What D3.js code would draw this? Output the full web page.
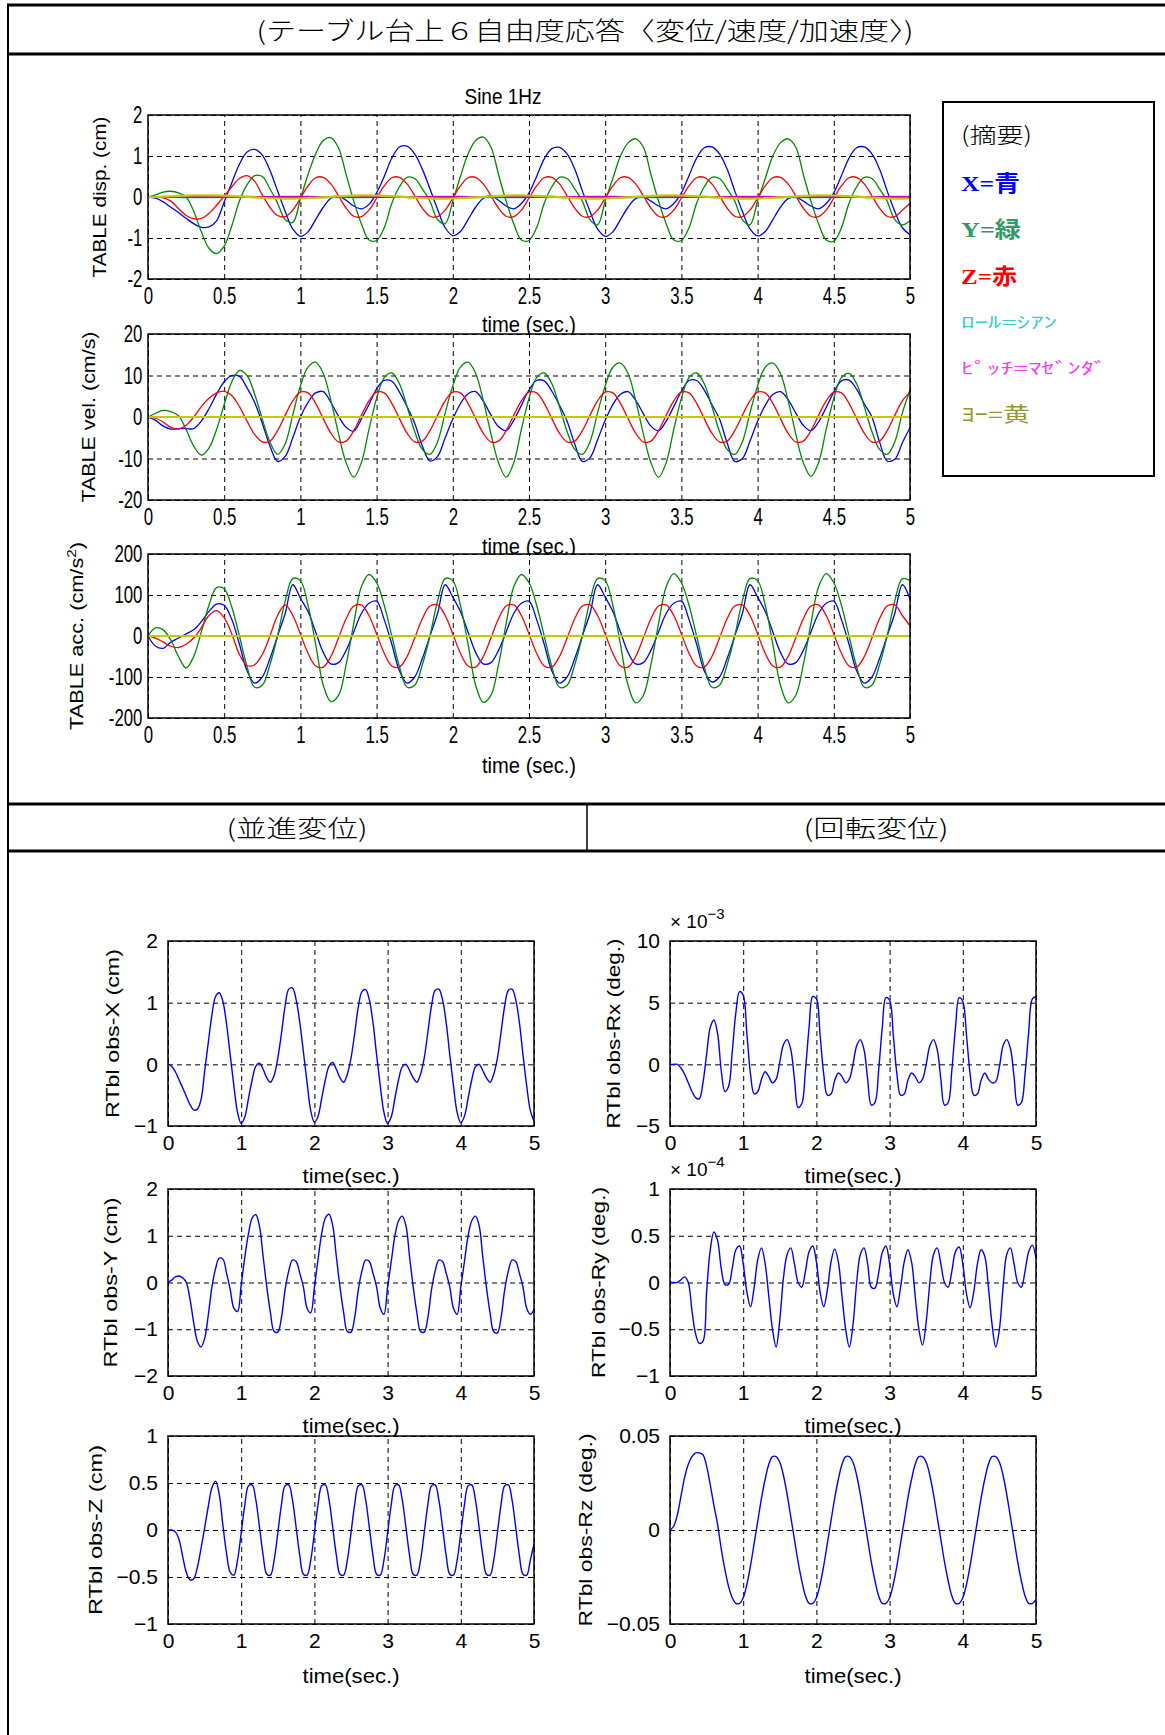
<!DOCTYPE html>
<html>
<head>
<meta charset="utf-8">
<title>テーブル台上6自由度応答</title>
<script src="https://d3js.org/d3.v7.min.js"></script>
<style>
  body { margin: 0; background: #fff; }
  svg { display: block; }
</style>
</head>
<body>
<svg id="page" width="1165" height="1735"></svg>

<script>
    // every series below is sampled every 0.05 s from 0 to 5 s (101 values)
    const SAMPLE_STEP = 0.05;

    // translational displacement (cm): TABLE disp. and RTbl obs-X / obs-Y / obs-Z
    const dispX = [
        0, -0.03, -0.12, -0.25, -0.38, -0.52, -0.65, -0.74, -0.73, -0.58, -0.12, 0.35, 0.80, 1.10, 1.16, 1.02, 0.65, 0.15, -0.35, -0.78,
        -0.96, -0.85, -0.55, -0.25, -0.03, 0.02, -0.08, -0.22, -0.29, -0.18, 0.10, 0.50, 0.95, 1.22, 1.24, 1.05, 0.68, 0.20, -0.30, -0.75,
        -0.94, -0.84, -0.55, -0.25, -0.03, 0.03, -0.08, -0.22, -0.29, -0.16, 0.10, 0.50, 0.93, 1.18, 1.21, 1.05, 0.68, 0.15, -0.35, -0.78,
        -0.96, -0.85, -0.55, -0.25, -0.04, 0.00, -0.10, -0.22, -0.29, -0.16, 0.10, 0.52, 0.95, 1.20, 1.22, 1.05, 0.68, 0.15, -0.35, -0.78,
        -0.95, -0.84, -0.55, -0.25, -0.04, 0.00, -0.10, -0.22, -0.29, -0.16, 0.10, 0.52, 0.95, 1.20, 1.22, 1.05, 0.68, 0.15, -0.35, -0.75,
        -0.92
    ];
    const dispY = [
        0, 0.05, 0.12, 0.14, 0.10, 0.00, -0.35, -0.85, -1.25, -1.38, -1.20, -0.70, -0.10, 0.30, 0.52, 0.50, 0.20, -0.15, -0.55, -0.62,
        -0.05, 0.55, 1.05, 1.38, 1.45, 1.20, 0.55, -0.10, -0.65, -1.05, -1.06, -0.75, -0.15, 0.25, 0.48, 0.45, 0.20, -0.10, -0.55, -0.65,
        -0.10, 0.50, 1.05, 1.38, 1.46, 1.22, 0.55, -0.10, -0.65, -1.05, -1.06, -0.75, -0.15, 0.25, 0.48, 0.45, 0.20, -0.10, -0.55, -0.68,
        -0.10, 0.45, 1.00, 1.32, 1.42, 1.22, 0.55, -0.10, -0.65, -1.05, -1.06, -0.75, -0.15, 0.25, 0.48, 0.45, 0.20, -0.10, -0.55, -0.68,
        -0.10, 0.45, 1.00, 1.32, 1.42, 1.22, 0.55, -0.10, -0.65, -1.05, -1.08, -0.75, -0.15, 0.25, 0.48, 0.45, 0.20, -0.10, -0.55, -0.68,
        -0.58
    ];
    const dispZ = [
        0, 0, -0.02, -0.10, -0.28, -0.45, -0.53, -0.52, -0.40, -0.20, 0.02, 0.25, 0.45, 0.52, 0.38, 0.05, -0.25, -0.45, -0.48, -0.32,
        -0.03, 0.27, 0.47, 0.48, 0.32, 0.03, -0.27, -0.47, -0.48, -0.32, -0.03, 0.27, 0.47, 0.48, 0.32, 0.03, -0.27, -0.47, -0.48, -0.32,
        -0.03, 0.27, 0.47, 0.48, 0.32, 0.03, -0.27, -0.47, -0.48, -0.32, -0.03, 0.27, 0.47, 0.48, 0.32, 0.03, -0.27, -0.47, -0.48, -0.32,
        -0.03, 0.27, 0.47, 0.48, 0.32, 0.03, -0.27, -0.47, -0.48, -0.32, -0.03, 0.27, 0.47, 0.48, 0.32, 0.03, -0.27, -0.47, -0.48, -0.32,
        -0.03, 0.27, 0.47, 0.48, 0.32, 0.03, -0.27, -0.47, -0.48, -0.32, -0.03, 0.27, 0.47, 0.48, 0.32, 0.03, -0.27, -0.47, -0.48, -0.32,
        -0.15
    ];

    // velocity (cm/s)
    const velX = [
        0, -0.8, -2.2, -2.9, -2.8, -2.8, -2.8, -1.0, 2.0, 5.5, 8.5, 10.0, 9.8, 7.0, 3.5, -1.5, -7.0, -10.7, -9.5, -5.0,
        0.0, 3.5, 5.8, 6.1, 3.5, 0.2, -2.5, -3.4, -0.5, 3.0, 6.8, 8.8, 8.6, 6.0, 2.5, -1.5, -7.0, -10.6, -9.5, -5.0,
        -0.5, 3.2, 5.6, 6.1, 3.8, 0.5, -2.3, -3.3, -0.8, 2.8, 6.5, 8.8, 8.7, 6.2, 2.8, -1.0, -6.5, -10.7, -9.8, -5.5,
        -0.8, 3.0, 5.5, 6.1, 4.0, 0.8, -2.2, -3.3, -1.0, 2.5, 6.2, 8.8, 8.8, 6.5, 3.0, -0.5, -6.2, -10.7, -10.0, -5.8,
        -1.0, 2.8, 5.4, 6.1, 4.2, 1.0, -2.0, -3.3, -1.2, 2.3, 6.0, 8.7, 8.9, 6.7, 3.2, 0.0, -6.0, -10.6, -10.2, -6.2,
        -2.6
    ];
    const velY = [
        0, 0.9, 1.6, 1.3, 0.3, -3.0, -7.0, -9.2, -7.5, -3.0, 3.0, 8.5, 11.2, 10.0, 5.5, -0.5, -6.0, -9.0, -6.5, 0.5,
        7.5, 12.0, 13.2, 10.5, 4.0, -4.0, -11.0, -14.5, -11.0, -3.0, 4.5, 9.5, 10.6, 8.0, 2.5, -3.5, -7.8, -9.0, -6.0, 1.0,
        7.5, 12.0, 13.2, 10.5, 4.0, -4.0, -11.0, -14.5, -11.0, -3.0, 4.5, 9.5, 10.6, 8.0, 2.5, -3.5, -7.8, -9.0, -6.0, 1.0,
        7.5, 12.0, 13.0, 10.5, 4.0, -4.0, -11.0, -14.5, -11.0, -3.0, 4.5, 9.5, 10.6, 8.0, 2.5, -3.5, -7.8, -9.0, -6.0, 1.0,
        7.5, 12.0, 13.0, 10.5, 4.0, -4.0, -11.0, -14.3, -11.0, -3.0, 4.5, 9.5, 10.5, 8.0, 2.5, -3.5, -7.8, -9.0, -6.0, 1.0,
        6.5
    ];
    const velZ = [
        0, -0.3, -1.2, -2.5, -2.9, -2.0, 0.0, 2.5, 4.5, 5.8, 6.2, 5.2, 2.5, -1.0, -4.2, -6.0, -5.8, -3.3, 0.4, 3.9,
        6.0, 5.8, 3.3, -0.4, -3.9, -6.0, -5.8, -3.3, 0.4, 3.9, 6.0, 5.8, 3.3, -0.4, -3.9, -6.0, -5.8, -3.3, 0.4, 3.9,
        6.0, 5.8, 3.3, -0.4, -3.9, -6.0, -5.8, -3.3, 0.4, 3.9, 6.0, 5.8, 3.3, -0.4, -3.9, -6.0, -5.8, -3.3, 0.4, 3.9,
        6.0, 5.8, 3.3, -0.4, -3.9, -6.0, -5.8, -3.3, 0.4, 3.9, 6.0, 5.8, 3.3, -0.4, -3.9, -6.0, -5.8, -3.3, 0.4, 3.9,
        6.0, 5.8, 3.3, -0.4, -3.9, -6.0, -5.8, -3.3, 0.4, 3.9, 6.0, 5.8, 3.3, -0.4, -3.9, -6.0, -5.8, -3.3, 0.4, 3.9,
        6.0
    ];

    // acceleration (cm/s^2)
    const accX = [
        0, -25, -30, -15, -5, 5, 15, 35, 60, 78, 75, 40, -20, -85, -115, -100, -55, 0, 55, 125,
        92, 60, 10, -40, -68, -65, -35, 10, 55, 80, 85, 40, -20, -85, -115, -100, -55, 0, 55, 125,
        95, 60, 10, -40, -68, -65, -35, 10, 55, 80, 85, 40, -20, -85, -115, -100, -55, 0, 55, 125,
        95, 60, 10, -40, -68, -65, -35, 10, 55, 80, 85, 40, -20, -85, -112, -100, -55, 0, 55, 125,
        95, 60, 10, -40, -68, -65, -35, 10, 55, 80, 85, 40, -20, -85, -115, -100, -55, 0, 55, 125,
        90
    ];
    const accY = [
        0, 20, 15, -10, -50, -78, -50, 10, 75, 118, 115, 70, 0, -75, -125, -120, -70, 0, 85, 140,
        135, 75, -20, -120, -160, -145, -70, 30, 120, 150, 130, 75, 0, -75, -125, -120, -70, 0, 85, 140,
        135, 75, -20, -120, -162, -145, -70, 30, 120, 150, 130, 75, 0, -75, -125, -120, -70, 0, 85, 140,
        135, 75, -20, -120, -163, -145, -70, 30, 120, 152, 130, 75, 0, -75, -125, -120, -70, 0, 85, 140,
        135, 75, -20, -120, -163, -145, -70, 30, 120, 152, 130, 75, 0, -75, -125, -120, -70, 0, 85, 140,
        135
    ];
    const accZ = [
        0, -5, -15, -25, -28, -20, -5, 20, 50, 62, 45, 5, -45, -72, -70, -45, 0, 50, 76, 50,
        5, -42, -73, -76, -50, -5, 42, 73, 76, 50, 5, -42, -73, -76, -50, -5, 42, 73, 76, 50,
        5, -42, -73, -76, -50, -5, 42, 73, 76, 50, 5, -42, -73, -76, -50, -5, 42, 73, 76, 50,
        5, -42, -73, -76, -50, -5, 42, 73, 76, 50, 5, -42, -73, -76, -50, -5, 42, 73, 76, 50,
        5, -42, -73, -76, -50, -5, 42, 73, 76, 50, 5, -42, -73, -76, -50, -5, 42, 73, 76, 50,
        25
    ];

    // rotational displacement (deg): Rx in units of 1e-3, Ry in units of 1e-4, Rz as is
    const obsRx = [
        0, 0, 0, -0.3, -0.8, -1.5, -2.2, -2.7, -2.8, -1.5, 0.8, 3.0, 3.6, 2.5, -0.5, -2.2, -1.8, 1.0, 4.2, 5.9,
        5.6, 2.5, -0.8, -2.4, -2.2, -1.2, -0.6, -1.0, -1.5, -1.2, 0.2, 1.6, 2.0, 1.2, -1.2, -3.5, -3.2, -0.5, 3.0, 5.5,
        5.3, 2.4, -0.8, -2.5, -2.4, -1.3, -0.7, -1.0, -1.5, -1.2, 0.0, 1.5, 2.0, 1.2, -1.2, -3.3, -3.1, -0.5, 3.0, 5.4,
        5.2, 2.4, -0.8, -2.5, -2.4, -1.3, -0.7, -1.0, -1.5, -1.2, 0.0, 1.5, 2.0, 1.2, -1.2, -3.3, -3.1, -0.5, 3.0, 5.4,
        5.1, 2.4, -0.8, -2.5, -2.4, -1.3, -0.7, -1.2, -1.5, -1.4, -0.2, 1.5, 2.0, 1.3, -1.0, -3.3, -3.1, -0.8, 2.6, 5.3,
        5.5
    ];
    const obsRy = [
        0, 0, 0, 0.03, 0.06, 0.00, -0.30, -0.55, -0.65, -0.63, -0.10, 0.35, 0.54, 0.45, 0.15, -0.02, -0.02, 0.15, 0.35, 0.39,
        0.20, -0.10, -0.26, -0.05, 0.25, 0.37, 0.20, -0.15, -0.50, -0.69, -0.40, 0.05, 0.30, 0.37, 0.20, 0.00, -0.05, 0.12, 0.33, 0.39,
        0.22, -0.10, -0.26, -0.08, 0.22, 0.36, 0.22, -0.15, -0.50, -0.69, -0.45, 0.00, 0.30, 0.37, 0.20, -0.05, -0.06, 0.10, 0.32, 0.39,
        0.20, -0.12, -0.26, -0.05, 0.22, 0.35, 0.22, -0.15, -0.50, -0.67, -0.42, 0.00, 0.30, 0.37, 0.20, 0.00, -0.05, 0.12, 0.33, 0.38,
        0.20, -0.12, -0.27, -0.10, 0.20, 0.35, 0.28, -0.05, -0.45, -0.69, -0.50, -0.05, 0.30, 0.37, 0.20, 0.00, -0.05, 0.12, 0.33, 0.40,
        0.26
    ];
    const obsRz = [
        0, 0.002, 0.008, 0.018, 0.028, 0.035, 0.039, 0.041, 0.041, 0.040, 0.034, 0.024, 0.013, 0.003, -0.010, -0.021, -0.030, -0.036, -0.039, -0.039,
        -0.036, -0.029, -0.019, -0.007, 0.005, 0.017, 0.027, 0.035, 0.039, 0.039, 0.036, 0.029, 0.019, 0.007, -0.005, -0.017, -0.027, -0.035, -0.039, -0.039,
        -0.036, -0.029, -0.019, -0.007, 0.005, 0.017, 0.027, 0.035, 0.039, 0.039, 0.036, 0.029, 0.019, 0.007, -0.005, -0.017, -0.027, -0.035, -0.039, -0.039,
        -0.036, -0.029, -0.019, -0.007, 0.005, 0.017, 0.027, 0.035, 0.039, 0.039, 0.036, 0.029, 0.019, 0.007, -0.005, -0.017, -0.027, -0.035, -0.039, -0.039,
        -0.036, -0.029, -0.019, -0.007, 0.005, 0.017, 0.027, 0.035, 0.039, 0.039, 0.036, 0.029, 0.019, 0.007, -0.005, -0.017, -0.027, -0.035, -0.039, -0.039,
        -0.037
    ];
    const RX_UNIT = 1e-3, RY_UNIT = 1e-4;

    // roll / pitch / yaw rate and acceleration read as flat zero over the whole run
    const rotRateFlat = [0, 0];

    // ticks and labels
    const topTimeTicks = [0, 0.5, 1, 1.5, 2, 2.5, 3, 3.5, 4, 4.5, 5];
    const bottomTimeTicks = [0, 1, 2, 3, 4, 5];
    const dispTicks = [-2, -1, 0, 1, 2];
    const velTicks = [-20, -10, 0, 10, 20];
    const accTicks = [-200, -100, 0, 100, 200];
    const obsXTicks = [-1, 0, 1, 2];
    const obsYTicks = [-2, -1, 0, 1, 2];
    const obsZTicks = [-1, -0.5, 0, 0.5, 1];
    const rxTicks = [-5, 0, 5, 10];
    const ryTicks = [-1, -0.5, 0, 0.5, 1];
    const rzTicks = [-0.05, 0, 0.05];
    const legendLabels = ["(摘要)", "X=青", "Y=緑", "Z=赤", "ﾛｰﾙ=ｼｱﾝ", "ﾋﾟｯﾁ=ﾏｾﾞﾝﾀﾞ", "ﾖｰ=黄"];

    const COL = { x: "#0000ff", y: "#008a00", z: "#ff0000", roll: "#00bfbf", pitch: "#bf00bf", yaw: "#c8c800" };
    const SANS = '"Liberation Sans", Arial, sans-serif';
    const JP = '"Noto Sans CJK JP", sans-serif';
    const SERIF = '"Liberation Serif", "Noto Sans CJK JP", serif';
    const SQUEEZE = "scale(0.8,1.12)";   // the top figure uses a tall, narrow screen font

    const svg = d3.select("#page");

    // ---------- table frame ----------
    const frame = svg.append("g").attr("stroke", "#000").attr("fill", "none");
    frame.append("line").attr("x1", 7).attr("x2", 1165).attr("y1", 5).attr("y2", 5).attr("stroke-width", 3);
    frame.append("line").attr("x1", 7).attr("x2", 1165).attr("y1", 54).attr("y2", 54).attr("stroke-width", 3);
    frame.append("line").attr("x1", 7).attr("x2", 1165).attr("y1", 804).attr("y2", 804).attr("stroke-width", 3);
    frame.append("line").attr("x1", 7).attr("x2", 1165).attr("y1", 851).attr("y2", 851).attr("stroke-width", 3);
    frame.append("line").attr("x1", 8).attr("x2", 8).attr("y1", 4).attr("y2", 1735).attr("stroke-width", 2);
    frame.append("line").attr("x1", 587).attr("x2", 587).attr("y1", 804).attr("y2", 851).attr("stroke-width", 1.5);

    svg.append("text").attr("x", 585).attr("y", 40).attr("text-anchor", "middle")
        .attr("font-family", JP).attr("font-size", 25).attr("font-weight", 300)
        .attr("textLength", 657).attr("lengthAdjust", "spacingAndGlyphs")
        .text("(テーブル台上６自由度応答〈変位/速度/加速度〉)");
    svg.append("text").attr("x", 297).attr("y", 837).attr("text-anchor", "middle")
        .attr("font-family", JP).attr("font-size", 24).attr("font-weight", 300)
        .attr("textLength", 141).attr("lengthAdjust", "spacingAndGlyphs").text("(並進変位)");
    svg.append("text").attr("x", 876).attr("y", 837).attr("text-anchor", "middle")
        .attr("font-family", JP).attr("font-size", 24).attr("font-weight", 300)
        .attr("textLength", 145).attr("lengthAdjust", "spacingAndGlyphs").text("(回転変位)");

    // ---------- one MATLAB-style axes ----------
    function drawPanel(cfg) {
        const x = d3.scaleLinear().domain([0, 5]).range([cfg.left, cfg.right]);
        const y = d3.scaleLinear().domain(cfg.yDomain).range([cfg.bottom, cfg.top]);
        const w = cfg.right - cfg.left, h = cfg.bottom - cfg.top;
        const g = svg.append("g");

        g.append("rect").attr("x", cfg.left).attr("y", cfg.top).attr("width", w).attr("height", h).attr("fill", "#fff");

        const gx = g.append("g").attr("transform", `translate(0,${cfg.bottom})`)
            .call(d3.axisBottom(x).tickValues(cfg.xTicks).tickSize(-h).tickPadding(cfg.xPad).tickFormat(cfg.fmt));
        const gy = g.append("g").attr("transform", `translate(${cfg.left},0)`)
            .call(d3.axisLeft(y).tickValues(cfg.yTicks).tickSize(-w).tickPadding(cfg.yPad).tickFormat(cfg.fmt));
        [gx, gy].forEach(a => {
            a.attr("font-family", SANS).attr("font-size", cfg.fontSize);
            a.select(".domain").remove();
            a.selectAll(".tick line").attr("stroke", "#000").attr("stroke-width", 1).attr("stroke-dasharray", "5,4");
            a.selectAll(".tick text").attr("fill", "#000");
            if (cfg.squeeze) a.selectAll(".tick text").attr("transform", SQUEEZE);
        });

        cfg.series.forEach(s => {
            const dt = s.dt || SAMPLE_STEP;
            g.append("path").datum(s.values)
                .attr("fill", "none").attr("stroke", s.color).attr("stroke-width", s.width || 1.3)
                .attr("d", d3.line()
                    .x((v, i) => x(i * dt))
                    .y(v => y(v * (s.unit || 1)))
                    .curve(d3.curveCatmullRom));
        });

        g.append("rect").attr("x", cfg.left).attr("y", cfg.top).attr("width", w).attr("height", h)
            .attr("fill", "none").attr("stroke", "#000").attr("stroke-width", 1.5);
        return g;
    }

    function yLabel(x, cy, len, size, parts) {
        const t = svg.append("text").attr("transform", `translate(${x},${cy}) rotate(-90)`)
            .attr("text-anchor", "middle").attr("dy", "0.35em")
            .attr("font-family", SANS).attr("font-size", size)
            .attr("textLength", len).attr("lengthAdjust", "spacingAndGlyphs");
        parts.forEach(p => {
            const sp = t.append("tspan").text(p.text);
            if (p.sup) sp.attr("baseline-shift", "super").attr("font-size", size * 0.7);
        });
    }

    function centreText(txt, x, y, size, len, tall) {
        const t = svg.append("text").attr("text-anchor", "middle").attr("dy", "0.35em")
            .attr("font-family", SANS).attr("font-size", size).text(txt)
            .attr("textLength", len).attr("lengthAdjust", "spacingAndGlyphs");
        if (tall) t.attr("transform", `translate(${x},${y}) scale(1,1.12)`);
        else t.attr("x", x).attr("y", y);
    }

    const hyphenFmt = v => String(v);
    const minusFmt = v => (v < 0 ? "\u2212" : "") + String(Math.abs(v));

    // ---------- top: TABLE disp / vel / acc ----------
    const TOP_L = 148, TOP_R = 910;
    const topRows = [
        { top: 115, bottom: 279, domain: [-2, 2], ticks: dispTicks, xyz: [dispX, dispY, dispZ],
          rot: [{ values: obsRx, unit: RX_UNIT }, { values: obsRy, unit: RY_UNIT }, { values: obsRz }],
          label: [{ text: "TABLE disp. (cm)" }], labelX: 100, labelLen: 161, timeY: 325 },
        { top: 334, bottom: 500, domain: [-20, 20], ticks: velTicks, xyz: [velX, velY, velZ],
          rot: [{ values: rotRateFlat, dt: 5 }, { values: rotRateFlat, dt: 5 }, { values: rotRateFlat, dt: 5 }],
          label: [{ text: "TABLE vel. (cm/s)" }], labelX: 89, labelLen: 171, timeY: 547 },
        { top: 554, bottom: 718, domain: [-200, 200], ticks: accTicks, xyz: [accX, accY, accZ],
          rot: [{ values: rotRateFlat, dt: 5 }, { values: rotRateFlat, dt: 5 }, { values: rotRateFlat, dt: 5 }],
          label: [{ text: "TABLE acc. (cm/s" }, { text: "2", sup: true }, { text: ")" }], labelX: 77, labelLen: 188, timeY: 766 }
    ];
    topRows.forEach(r => {
        const rotColors = [COL.roll, COL.pitch, COL.yaw];
        drawPanel({
            left: TOP_L, right: TOP_R, top: r.top, bottom: r.bottom,
            yDomain: r.domain, yTicks: r.ticks, xTicks: topTimeTicks,
            fmt: hyphenFmt, fontSize: 21, xPad: 7, yPad: 7, squeeze: true,
            series: [
                { values: r.xyz[0], color: COL.x },
                { values: r.xyz[1], color: COL.y },
                { values: r.xyz[2], color: COL.z },
                ...r.rot.map((s, i) => Object.assign({ color: rotColors[i], width: 2.2 }, s))
            ]
        });
        yLabel(r.labelX, (r.top + r.bottom) / 2, r.labelLen, 18, r.label);
        centreText("time (sec.)", (TOP_L + TOP_R) / 2, r.timeY, 19, 94, true);
    });
    centreText("Sine 1Hz", 503, 97, 19, 77, true);

    // legend
    svg.append("rect").attr("x", 943).attr("y", 102).attr("width", 211).attr("height", 374)
        .attr("fill", "#fff").attr("stroke", "#000").attr("stroke-width", 2);
    const legendStyle = [
        { c: "#000000", y: 135, size: 22, len: 71, font: JP, weight: 300 },
        { c: "#0000ff", y: 183, size: 22, len: 59, font: SERIF, weight: "bold" },
        { c: "#339966", y: 229, size: 22, len: 60, font: SERIF, weight: "bold" },
        { c: "#ff0000", y: 276, size: 22, len: 56, font: SERIF, weight: "bold" },
        { c: "#33cccc", y: 322, size: 16, len: 96, font: JP, weight: "normal" },
        { c: "#ff33ff", y: 368, size: 16, len: 146, font: JP, weight: "normal" },
        { c: "#999933", y: 415, size: 20, len: 69, font: JP, weight: "normal" }
    ];
    legendLabels.forEach((txt, i) => {
        const s = legendStyle[i];
        svg.append("text").attr("x", 961).attr("y", s.y).attr("dy", "0.35em")
            .attr("fill", s.c).attr("font-family", s.font).attr("font-size", s.size).attr("font-weight", s.weight)
            .attr("textLength", s.len).attr("lengthAdjust", "spacingAndGlyphs").text(txt);
    });

    // ---------- bottom: RTbl obs ----------
    const COLS = [{ left: 168, right: 534 }, { left: 670, right: 1036 }];
    const ROWS = [{ top: 941, bottom: 1126, timeY: 1176 }, { top: 1189, bottom: 1376, timeY: 1426 }, { top: 1436, bottom: 1624, timeY: 1676 }];
    const obsPanels = [
        { col: 0, row: 0, values: dispX, domain: [-1, 2], ticks: obsXTicks, label: "RTbl obs-X (cm)", lx: 112, len: 169 },
        { col: 0, row: 1, values: dispY, domain: [-2, 2], ticks: obsYTicks, label: "RTbl obs-Y (cm)", lx: 110, len: 170 },
        { col: 0, row: 2, values: dispZ, domain: [-1, 1], ticks: obsZTicks, label: "RTbl obs-Z (cm)", lx: 95, len: 170 },
        { col: 1, row: 0, values: obsRx, domain: [-5, 10], ticks: rxTicks, label: "RTbl obs-Rx  (deg.)", lx: 613, len: 190, exp: "\u22123" },
        { col: 1, row: 1, values: obsRy, domain: [-1, 1], ticks: ryTicks, label: "RTbl obs-Ry  (deg.)", lx: 598, len: 191, exp: "\u22124" },
        { col: 1, row: 2, values: obsRz, domain: [-0.05, 0.05], ticks: rzTicks, label: "RTbl obs-Rz  (deg.)", lx: 585, len: 193 }
    ];
    obsPanels.forEach(p => {
        const c = COLS[p.col], r = ROWS[p.row];
        drawPanel({
            left: c.left, right: c.right, top: r.top, bottom: r.bottom,
            yDomain: p.domain, yTicks: p.ticks, xTicks: bottomTimeTicks,
            fmt: minusFmt, fontSize: 21, xPad: 9, yPad: 10,
            series: [{ values: p.values, color: COL.x, width: 1.4 }]
        });
        yLabel(p.lx, (r.top + r.bottom) / 2, p.len, 19, [{ text: p.label }]);
        centreText("time(sec.)", (c.left + c.right) / 2, r.timeY, 20, 97, false);
        if (p.exp) {
            const t = svg.append("text").attr("x", c.left).attr("y", r.top - 13)
                .attr("font-family", SANS).attr("font-size", 19);
            t.append("tspan").text("\u00d7 10");
            t.append("tspan").attr("dy", -9).attr("font-size", 15).text(p.exp);
        }
    });
</script>
</body>
</html>
